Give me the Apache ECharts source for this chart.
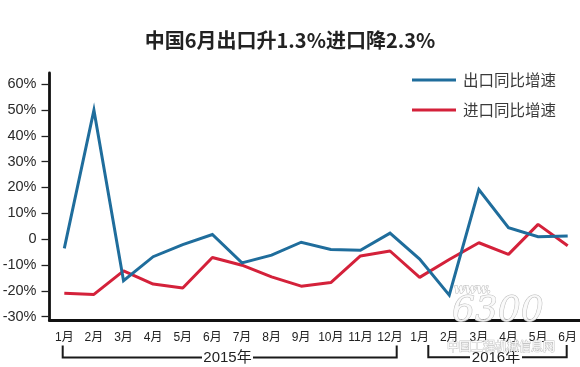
<!DOCTYPE html>
<html>
<head>
<meta charset="utf-8">
<script src="https://cdn.jsdelivr.net/npm/echarts@6/dist/echarts.min.js"></script>
<style>
html,body{margin:0;padding:0;background:#fff;}
#c{width:580px;height:367px;}
</style>
</head>
<body>
<div id="c"></div>
<script>
// ---- data ----
var monthLabels = ['1月','2月','3月','4月','5月','6月','7月','8月','9月','10月','11月','12月','1月','2月','3月','4月','5月','6月'];
var exportGrowth = [-3.6, 49.9, -16.1, -6.8, -2.1, 1.8, -9.2, -6.2, -1.2, -4.0, -4.3, 2.3, -7.7, -21.7, 19.2, 4.4, 0.9, 1.2];
var importGrowth = [-21.0, -21.4, -12.3, -17.4, -18.9, -7.1, -10.1, -14.6, -18.2, -16.8, -6.5, -4.6, -14.8, -7.9, -1.4, -5.9, 5.7, -2.6];
var yTicks = [-30, -20, -10, 0, 10, 20, 30, 40, 50, 60];
var seriesNames = ['出口同比增速', '进口同比增速'];
var yearLabels = ['2015年', '2016年'];
var titleText = '中国6月出口升1.3%进口降2.3%';

var BLUE = '#1f6d9c', RED = '#d4213a';
var latin = '"Liberation Sans", Arial, "Noto Sans CJK SC", sans-serif';

var chart = echarts.init(document.getElementById('c'), null, {renderer: 'canvas'});

var bracketStyle = {stroke: '#1a1a1a', lineWidth: 2, fill: null};
var option = {
  backgroundColor: '#fff',
  animation: false,
  title: {
    text: titleText,
    left: 'center',
    top: 25,
    textStyle: {fontFamily: '"Noto Sans CJK SC", sans-serif', fontSize: 20, fontWeight: 'bold', color: '#222'}
  },
  legend: {
    orient: 'vertical',
    left: 407,
    top: 65,
    itemWidth: 44,
    itemHeight: 3,
    itemGap: 10,
    icon: 'rect',
    data: seriesNames,
    textStyle: {fontFamily: '"Noto Sans CJK SC", sans-serif', fontSize: 15.5, color: '#3a3a3a', lineHeight: 20, padding: [0, 0, 0, 2]}
  },
  grid: {left: 49.5, right: -2.5, top: 73, height: 247.5, containLabel: false, outerBoundsMode: 'none'},
  xAxis: {
    type: 'category',
    data: monthLabels,
    boundaryGap: true,
    axisLine: {onZero: false, lineStyle: {color: '#111', width: 3}},
    axisTick: {show: false},
    axisLabel: {interval: 0, margin: 11, fontSize: 12, fontFamily: latin, color: '#222'},
    splitLine: {show: false}
  },
  yAxis: {
    type: 'value',
    min: -31.5,
    max: 64.3,
    axisLine: {show: true, lineStyle: {color: '#111', width: 2.8}},
    axisTick: {show: true, inside: false, length: 8, lineStyle: {color: '#222', width: 1.3}, customValues: yTicks},
    axisLabel: {
      customValues: yTicks,
      margin: 13,
      fontSize: 14.5,
      fontFamily: latin,
      color: '#2a2a2a',
      formatter: function (v) { return v === 0 ? '0' : v + '%'; }
    },
    splitLine: {show: false}
  },
  series: [
    {
      name: seriesNames[0], type: 'line', data: exportGrowth,
      symbol: 'none', color: BLUE,
      lineStyle: {width: 3, color: BLUE, join: 'miter'}, z: 3
    },
    {
      name: seriesNames[1], type: 'line', data: importGrowth,
      symbol: 'none', color: RED,
      lineStyle: {width: 3, color: RED}, z: 2
    }
  ],
  graphic: [
    // 2015 bracket
    {type: 'polyline', shape: {points: [[62.7, 345.5], [62.7, 357.5], [202, 357.5]]}, style: bracketStyle, silent: true},
    {type: 'polyline', shape: {points: [[253, 357.5], [396.7, 357.5], [396.7, 345.5]]}, style: bracketStyle, silent: true},
    {type: 'text', x: 227.5, y: 358, style: {text: yearLabels[0], font: '15px ' + latin, fill: '#222', textAlign: 'center', textVerticalAlign: 'middle'}, silent: true},
    // 2016 bracket
    {type: 'polyline', shape: {points: [[428.3, 345], [428.3, 357.3], [470, 357.3]]}, style: bracketStyle, silent: true},
    {type: 'polyline', shape: {points: [[522, 357.3], [566.7, 357.3], [566.7, 345]]}, style: bracketStyle, silent: true},
    {type: 'text', x: 496, y: 358, style: {text: yearLabels[1], font: '15px ' + latin, fill: '#222', textAlign: 'center', textVerticalAlign: 'middle'}, silent: true},
    // watermark
    {type: 'text', x: 454, y: 290, z: 50, style: {text: 'www.', font: 'italic bold 13px "DejaVu Serif", serif', fill: 'rgba(255,255,255,0.9)', stroke: 'rgba(170,170,170,0.8)', lineWidth: 1, textVerticalAlign: 'middle'}, silent: true},
    {type: 'text', x: 452, y: 312, z: 50, style: {text: '6300', font: 'italic 36px "DejaVu Serif", serif', fill: 'rgba(250,250,250,0.92)', stroke: 'rgba(175,175,175,0.85)', lineWidth: 1, textVerticalAlign: 'middle'}, silent: true},
    {type: 'text', x: 447, y: 346, z: 50, style: {text: '中国工程机械信息网', font: '12px "Noto Sans CJK SC", sans-serif', fill: 'rgba(255,255,255,0.95)', stroke: 'rgba(190,190,190,0.9)', lineWidth: 1, textVerticalAlign: 'middle'}, silent: true}
  ]
};
chart.setOption(option);
</script>
</body>
</html>
